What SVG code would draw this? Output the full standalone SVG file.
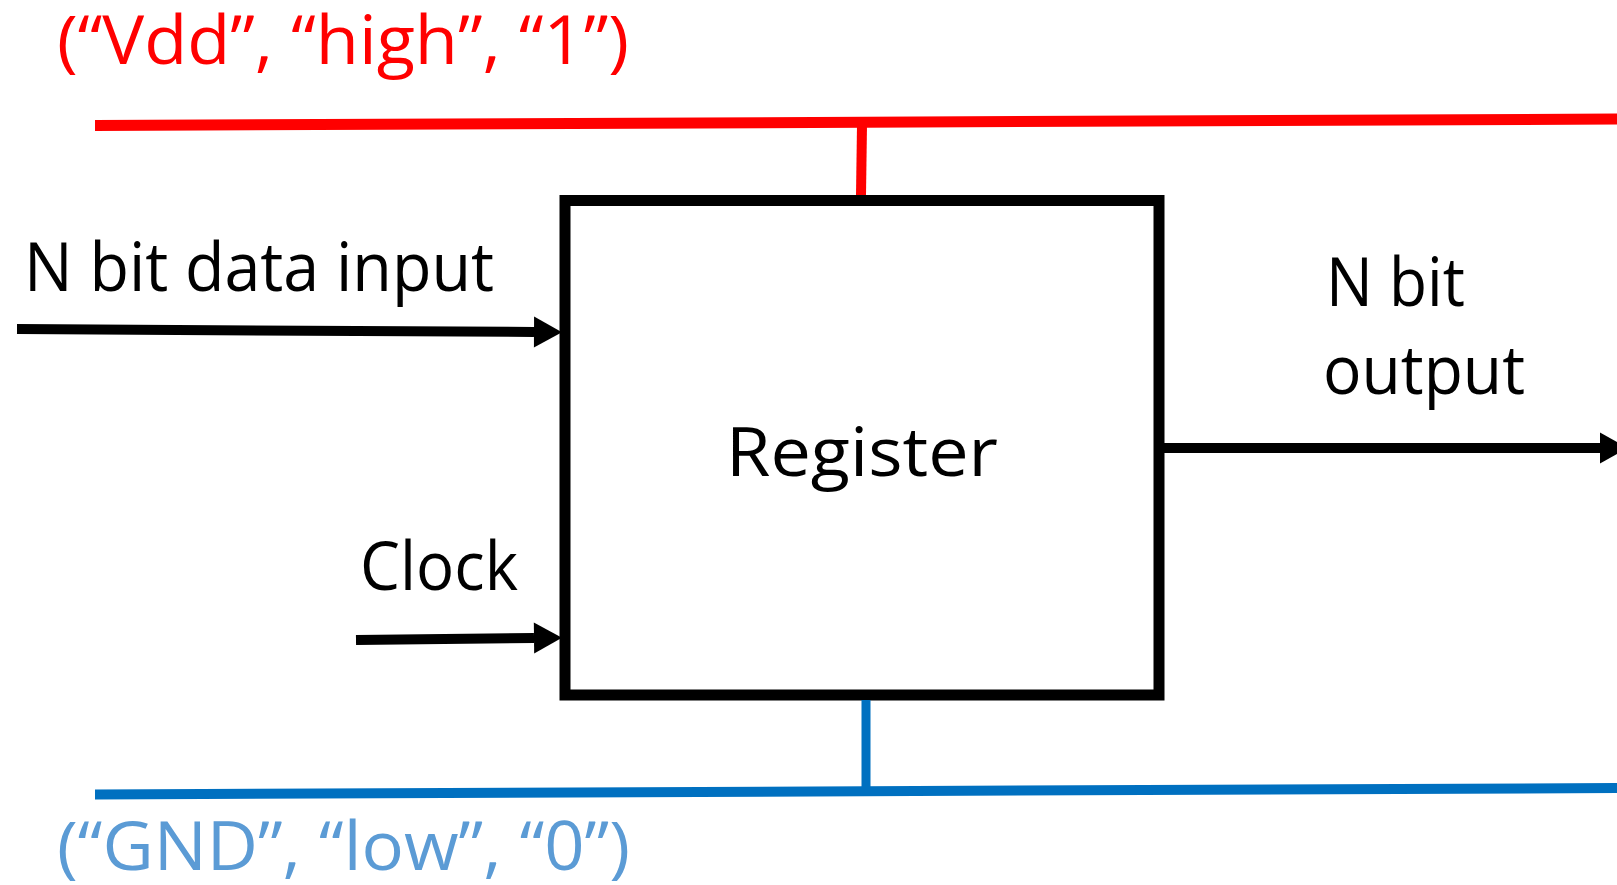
<svg xmlns="http://www.w3.org/2000/svg" width="1617" height="885" viewBox="0 0 1617 885">
<defs>
<style>
.t{font-family:"Open Sans","Noto Sans","Liberation Sans",sans-serif;font-size:67px;fill:#000}
.red{fill:#FF0000}
.blue{fill:#5B9BD5}
.wire{stroke:#000;stroke-width:10;fill:none}
</style>
<marker id="ah" markerUnits="userSpaceOnUse" markerWidth="30" markerHeight="32" refX="0" refY="15.5" orient="auto" viewBox="0 0 30 32" overflow="visible">
<path d="M0,0 L28,15.5 L0,31 Z" fill="#000"/>
</marker>
</defs>
<rect width="1617" height="885" fill="#fff"/>
<g id="vdd">
<line x1="95" y1="125.5" x2="1617" y2="119" stroke="#FF0000" stroke-width="11"/>
<text class="t red" x="57" y="64" textLength="572" lengthAdjust="spacingAndGlyphs">(“Vdd”, “high”, “1”)</text>
</g>
<g id="gnd">
<line x1="95" y1="794.5" x2="1617" y2="788" stroke="#0070C0" stroke-width="10"/>
<text class="t blue" x="57" y="870" textLength="573" lengthAdjust="spacingAndGlyphs">(“GND”, “low”, “0”)</text>
</g>
<g id="register">
<rect x="565" y="200.5" width="594" height="494.5" fill="#fff" stroke="#000" stroke-width="11"/>
<text class="t" x="726" y="476" font-size="74" textLength="272" lengthAdjust="spacingAndGlyphs">Register</text>
</g>
<g id="labels">
<text class="t" x="24" y="291" textLength="470" lengthAdjust="spacingAndGlyphs">N bit data input</text>
<text class="t" x="360" y="590" textLength="158" lengthAdjust="spacingAndGlyphs">Clock</text>
<text class="t" x="1326" y="306" textLength="139" lengthAdjust="spacingAndGlyphs">N bit</text>
<text class="t" x="1323" y="394" textLength="202" lengthAdjust="spacingAndGlyphs">output</text>
</g>
<g id="connectors">
<line x1="862" y1="125" x2="861" y2="195" stroke="#FF0000" stroke-width="10"/>
<line x1="866" y1="700" x2="866" y2="791" stroke="#0070C0" stroke-width="9"/>
<line class="wire" x1="17" y1="329" x2="534" y2="332" marker-end="url(#ah)"/>
<line class="wire" x1="356" y1="640" x2="534" y2="638" marker-end="url(#ah)"/>
<line class="wire" x1="1163" y1="448" x2="1600" y2="448" marker-end="url(#ah)"/>
</g>
</svg>
